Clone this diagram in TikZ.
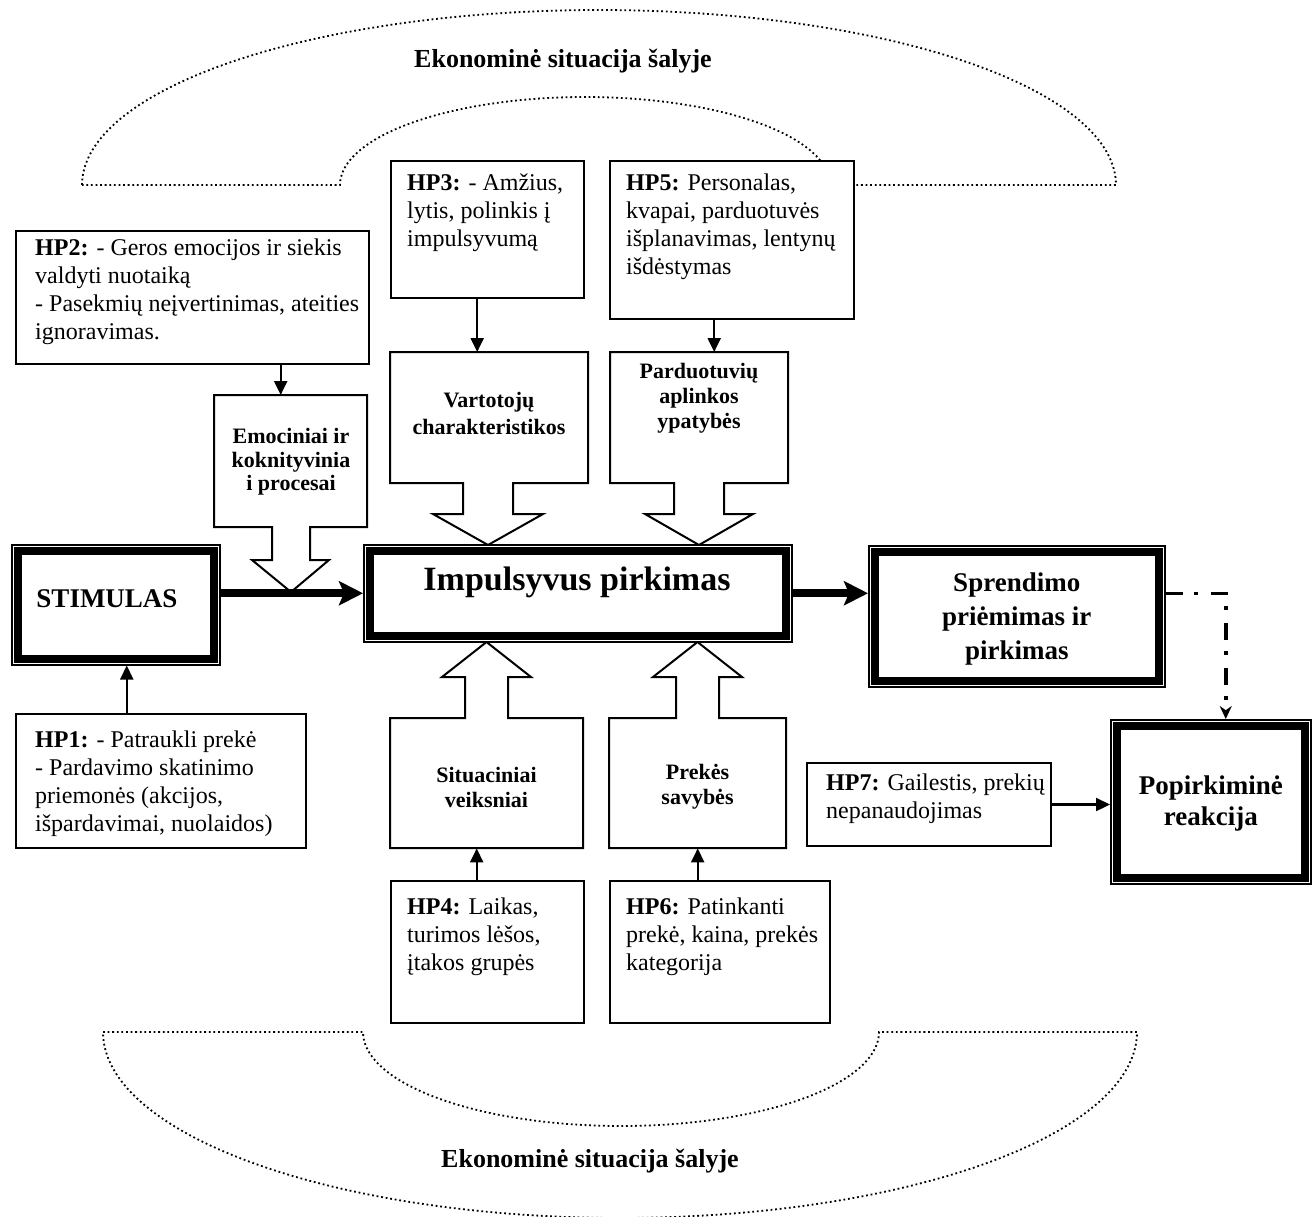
\documentclass[tikz,border=0pt]{standalone}
\usepackage{fontspec}
\setmainfont{Liberation Serif}
\usetikzlibrary{arrows.meta,calc}

% thick inner rule of a double-framed box
\newcommand\drawinnerframe[1]{%
  \draw[line width=8pt] ([shift={(7,7)}]#1.north west) rectangle ([shift={(-7,-7)}]#1.south east);}

\begin{document}
\begin{tikzpicture}[x=1pt,y=-1pt,
  every node/.style={inner sep=0pt},
  hpbox/.style={draw, line width=2pt, fill=white, anchor=north west},
  hptext/.style={anchor=north west, align=left, font=\fontsize{24}{28}\selectfont},
  calltext/.style={align=center, font=\fontsize{22}{25}\selectfont\bfseries},
  callshape/.style={draw, line width=2pt, fill=white, line join=miter},
  area/.style={anchor=north west},
  dframe/.style={draw, line width=1.5pt, fill=white, anchor=north west},
  bigtext/.style={align=center, font=\fontsize{27}{33}\selectfont\bfseries},
  thinarrow/.style={line width=2.2pt, -{Triangle[length=14pt,width=13pt]}},
  mainarrow/.style={line width=8pt, -{Stealth[length=24pt,width=24pt,inset=5pt]}},
  dashdotarrow/.style={line width=3.5pt, dash pattern=on 17pt off 11pt on 4pt off 13pt,
                       -{Stealth[length=13pt,width=12pt]}},
  economy/.style={line width=1.8pt, dash pattern=on 1.8pt off 2.8pt},
  econtitle/.style={font=\fontsize{26}{30}\selectfont\bfseries},
]
\useasboundingbox (0,0) rectangle (1312,1216);

% ---------- economic situation arcs ----------
\draw[economy] (82,185)
  -- plot[domain=0:180, samples=140] ({599-517*cos(\x)}, {185-175*sin(\x)})
  -- (830,185)
  -- plot[domain=0:180, samples=100] ({585+245*cos(\x)}, {185-88*sin(\x)})
  -- cycle;
\node[econtitle, anchor=base] (ectop) at (563,67) {Ekonominė situacija šalyje};

\draw[economy] (103,1032) -- (363,1032)
  -- plot[domain=0:180, samples=100] ({621-258*cos(\x)}, {1032+94*sin(\x)})
  -- (1137,1032)
  -- plot[domain=0:180, samples=140] ({620+517*cos(\x)}, {1032+186*sin(\x)})
  -- cycle;
\node[econtitle, anchor=base] (ecbot) at (590,1167) {Ekonominė situacija šalyje};

% ---------- hypothesis boxes ----------
\node[hpbox, minimum width=353pt, minimum height=133pt] (hp2) at (15,230) {};
\node[hptext] (hp2t) at (35,239) {\textbf{HP2:} - Geros emocijos ir siekis\\valdyti nuotaiką\\- Pasekmių neįvertinimas, ateities\\ignoravimas.};

\node[hpbox, minimum width=193pt, minimum height=137pt] (hp3) at (390,160) {};
\node[hptext] (hp3t) at (407,174) {\textbf{HP3:} - Amžius,\\lytis, polinkis į\\impulsyvumą};

\node[hpbox, minimum width=244pt, minimum height=158pt] (hp5) at (609,160) {};
\node[hptext] (hp5t) at (626,174) {\textbf{HP5:} Personalas,\\kvapai, parduotuvės\\išplanavimas, lentynų\\išdėstymas};

\node[hpbox, minimum width=290pt, minimum height=134pt] (hp1) at (15,713) {};
\node[hptext] (hp1t) at (35,731) {\textbf{HP1:} - Patraukli prekė\\- Pardavimo skatinimo\\priemonės (akcijos,\\išpardavimai, nuolaidos)};

\node[hpbox, minimum width=193pt, minimum height=142pt] (hp4) at (390,880) {};
\node[hptext] (hp4t) at (407,898) {\textbf{HP4:} Laikas,\\turimos lėšos,\\įtakos grupės};

\node[hpbox, minimum width=220pt, minimum height=142pt] (hp6) at (609,880) {};
\node[hptext] (hp6t) at (626,898) {\textbf{HP6:} Patinkanti\\prekė, kaina, prekės\\kategorija};

\node[hpbox, minimum width=244pt, minimum height=83pt] (hp7) at (806,762) {};
\node[hptext] (hp7t) at (826,774) {\textbf{HP7:} Gailestis, prekių\\nepanaudojimas};

% ---------- block-arrow callouts ----------
\draw[callshape] (214,395) -- (367,395) -- (367,527) -- (310,527) -- (310,560) -- (329,560)
  -- (291,592) -- (252,560) -- (272,560) -- (272,527) -- (214,527) -- cycle;
\node[area, minimum width=153pt, minimum height=132pt] (emo) at (214,395) {};
\node[calltext, font=\fontsize{22}{23.5}\selectfont\bfseries] (emot) at (291,462) {Emociniai ir\\koknityvinia\\i procesai};

\draw[callshape] (390,352) -- (588,352) -- (588,483) -- (513,483) -- (513,514) -- (543,514)
  -- (488,545) -- (433,514) -- (463,514) -- (463,483) -- (390,483) -- cycle;
\node[area, minimum width=198pt, minimum height=131pt] (vart) at (390,352) {};
\node[calltext, font=\fontsize{22}{27}\selectfont\bfseries] (vartt) at (489,413) {Vartotojų\\charakteristikos};

\draw[callshape] (610,352) -- (788,352) -- (788,483) -- (724,483) -- (724,514) -- (753,514)
  -- (699,545) -- (645,514) -- (674,514) -- (674,483) -- (610,483) -- cycle;
\node[area, minimum width=178pt, minimum height=131pt] (pard) at (610,352) {};
\node[calltext] (pardt) at (699,398) {Parduotuvių\\aplinkos\\ypatybės};

\draw[callshape] (390,848) -- (583,848) -- (583,718) -- (508,718) -- (508,677) -- (531,677)
  -- (486.5,642) -- (442,677) -- (465,677) -- (465,718) -- (390,718) -- cycle;
\node[area, minimum width=193pt, minimum height=130pt] (sit) at (390,718) {};
\node[calltext] (sitt) at (486.5,787) {Situaciniai\\veiksniai};

\draw[callshape] (609,848) -- (786,848) -- (786,718) -- (719,718) -- (719,677) -- (742,677)
  -- (697.5,642) -- (653,677) -- (676,677) -- (676,718) -- (609,718) -- cycle;
\node[area, minimum width=177pt, minimum height=130pt] (prek) at (609,718) {};
\node[calltext] (prekt) at (697.5,787) {Prekės\\savybės};

% ---------- double-framed boxes ----------
\node[dframe, minimum width=208pt, minimum height=120pt] (stim) at (11,544) {};
\drawinnerframe{stim}
\node[bigtext, anchor=base] (stimt) at (107,607) {STIMULAS};

\node[dframe, minimum width=428pt, minimum height=97pt] (imp) at (363,544) {};
\drawinnerframe{imp}
\node[bigtext, font=\fontsize{34}{40}\selectfont\bfseries, anchor=base] (impt) at (577,590) {Impulsyvus pirkimas};

\node[dframe, minimum width=296pt, minimum height=141pt] (spr) at (868,545) {};
\drawinnerframe{spr}
\node[bigtext, font=\fontsize{27}{34}\selectfont\bfseries] (sprt) at ([yshift=-3pt]spr.center) {Sprendimo\\priėmimas ir\\pirkimas};

\node[dframe, minimum width=200pt, minimum height=164pt] (pop) at (1110,719) {};
\drawinnerframe{pop}
\node[bigtext, font=\fontsize{27}{31}\selectfont\bfseries] (popt) at ([yshift=-2pt]pop.center) {Popirkiminė\\reakcija};

% ---------- connectors ----------
\coordinate (emoin) at ([xshift=-10pt]emo.north);
\draw[thinarrow] (hp2.south -| emoin) -- (emoin);
\coordinate (vartin) at ([xshift=-12pt]vart.north);
\draw[thinarrow] (hp3.south -| vartin) -- (vartin);
\coordinate (pardin) at ([xshift=15pt]pard.north);
\draw[thinarrow] (hp5.south -| pardin) -- (pardin);
\coordinate (sitin) at ([xshift=-10pt]sit.south);
\draw[thinarrow] (hp4.north -| sitin) -- (sitin);
\draw[thinarrow] (hp6.north -| prek.south) -- (prek.south);
\coordinate (stimin) at ([xshift=11pt]stim.south);
\draw[thinarrow] (hp1.north -| stimin) -- (stimin);
\draw[thinarrow] (hp7.east) -- (hp7.east -| pop.west);

\draw[mainarrow] (stim.east |- imp.west) -- (imp.west);
\draw[mainarrow] (imp.east) -- (imp.east -| spr.west);

\coordinate (popin) at ([xshift=15pt]pop.north);
\draw[dashdotarrow] (spr.east |- imp.east) -| (popin);
\end{tikzpicture}
\end{document}
